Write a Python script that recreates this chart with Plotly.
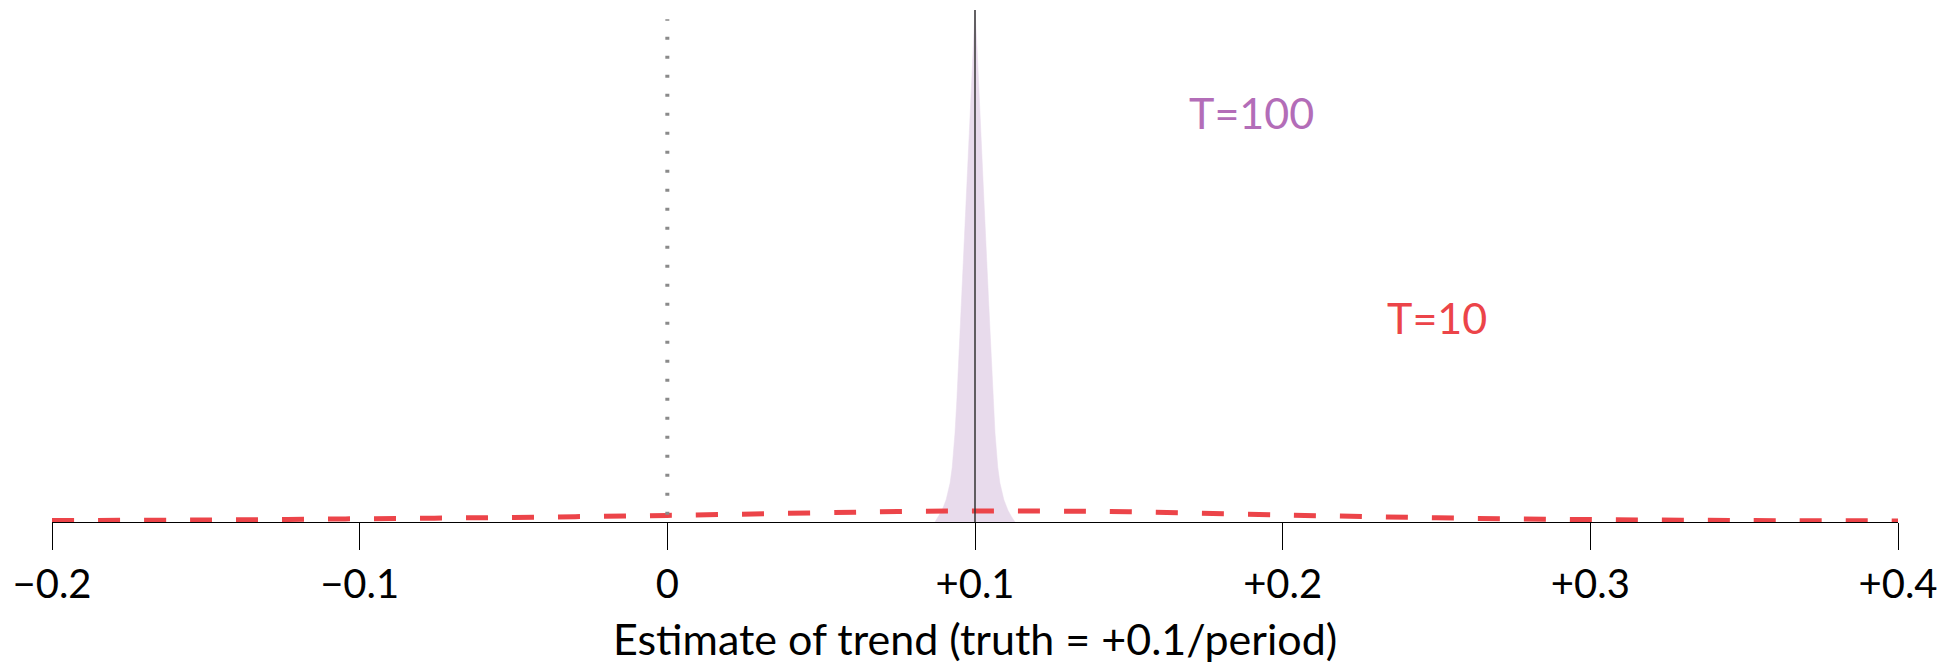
import plotly.graph_objects as go

# ---- data ----
# T=100 sampling density (filled, purple), y in relative units (peak = 100)
purple_x = [0.0870, 0.0881, 0.0893, 0.0906, 0.0919, 0.0926, 0.0935, 0.0941, 0.0956, 0.0971, 0.0985, 0.0993,
            0.1000,
            0.1007, 0.1015, 0.1029, 0.1044, 0.1060, 0.1065, 0.1074, 0.1081, 0.1094, 0.1107, 0.1119, 0.1130]
purple_y = [0.0, 1.0, 2.3, 4.3, 7.6, 10.7, 17.4, 23.8, 43.4, 62.9, 82.4, 92.2,
            100.0,
            92.2, 82.4, 62.9, 43.4, 23.8, 17.4, 10.7, 7.6, 4.3, 2.3, 1.0, 0.0]

# T=10 sampling density (dashed, red)
red_x = [-0.20, -0.15, -0.10, -0.05, 0.00, 0.05, 0.075, 0.10, 0.125, 0.15, 0.20, 0.25, 0.30, 0.35, 0.40]
red_y = [0.29, 0.39, 0.63, 0.90, 1.29, 1.80, 2.05, 2.15, 2.13, 1.99, 1.37, 0.82, 0.47, 0.29, 0.21]

tick_vals = [-0.2, -0.1, 0.0, 0.1, 0.2, 0.3, 0.4]
tick_text = ["\u22120.2", "\u22120.1", "0", "+0.1", "+0.2", "+0.3", "+0.4"]

truth = 0.1
null_value = 0.0
labels = [("T=100", 0.19, 80, "#B36DB8"), ("T=10", 0.25, 40, "#EC4449")]

FONT = "Lato"

fig = go.Figure()
fig.add_trace(go.Scatter(
    x=purple_x, y=purple_y, mode="lines", fill="tozeroy",
    fillcolor="#E8DBEC", line=dict(color="#E8DBEC", width=0.5),
    hoverinfo="skip", showlegend=False))
fig.add_trace(go.Scatter(
    x=red_x, y=red_y, mode="lines",
    line=dict(color="#EC4449", width=5, dash="22px,24px", shape="spline"),
    hoverinfo="skip", showlegend=False))

# vertical reference lines
fig.add_shape(type="line", x0=truth, x1=truth, y0=0, y1=100, xref="x", yref="y",
              line=dict(color="#333333", width=1.5), layer="above")
fig.add_shape(type="line", x0=null_value, x1=null_value, y0=1.4, y1=98.2, xref="x", yref="y",
              line=dict(color="#8A8A8A", width=4, dash="3px,16px"), layer="above")

for txt, x, y, col in labels:
    fig.add_annotation(x=x, y=y, xref="x", yref="y", text=txt, showarrow=False,
                       font=dict(family=FONT, size=43, color=col),
                       xanchor="center", yanchor="middle")

fig.add_annotation(x=0.5, y=-0.228, xref="paper", yref="paper",
                   text="Estimate of trend (truth = +0.1/period)", showarrow=False,
                   font=dict(family=FONT, size=43, color="black"),
                   xanchor="center", yanchor="middle")

# the page body adds an 8px offset; size the figure to fit the 1957x667 window
fig.update_layout(
    width=1941, height=659,
    margin=dict(l=44, r=51, t=2, b=145),
    paper_bgcolor="white", plot_bgcolor="white",
    xaxis=dict(range=[-0.2, 0.4], showgrid=False, zeroline=False,
               showline=True, linecolor="black", linewidth=1.3,
               ticks="outside", ticklen=27, tickwidth=1, tickcolor="black",
               tickvals=tick_vals, ticktext=tick_text,
               tickfont=dict(family=FONT, size=40, color="black")),
    yaxis=dict(range=[0, 100], visible=False, fixedrange=True),
    showlegend=False,
)

fig.write_html("out.html")
